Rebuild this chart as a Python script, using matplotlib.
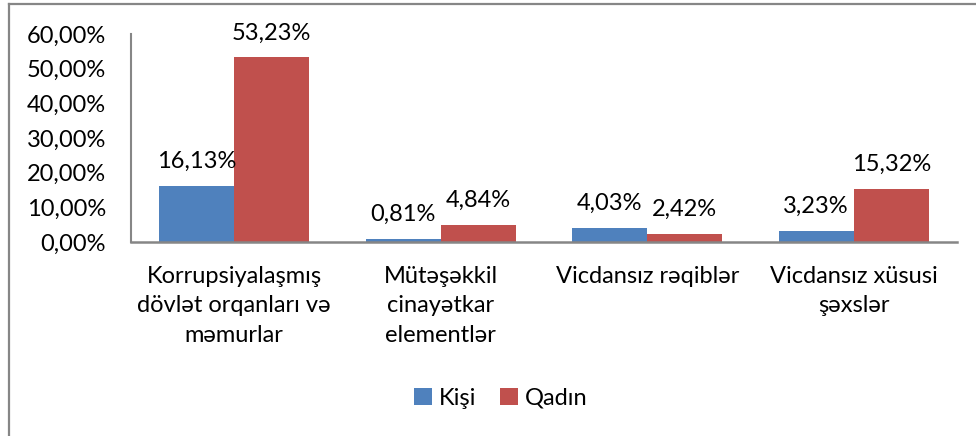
import matplotlib
matplotlib.use("Agg")
import matplotlib.pyplot as plt
from matplotlib.lines import Line2D
import numpy as np

plt.rcParams['font.family'] = ['Lato', 'DejaVu Sans']

categories = [
    "Korrupsiyalaşmış\ndövlət orqanları və\nməmurlar",
    "Mütəşəkkil\ncinayətkar\nelementlər",
    "Vicdansız rəqiblər",
    "Vicdansız xüsusi\nşəxslər",
]
kisi = [16.13, 0.81, 4.03, 3.23]
qadin = [53.23, 4.84, 2.42, 15.32]
series_names = ["Kişi", "Qadın"]
y_ticks = [0, 10, 20, 30, 40, 50, 60]

BLUE = '#4F81BD'
RED = '#C0504D'
GRAY = '#868686'
FS = 17


def pct(v, decimals=2):
    return (f"{v:.{decimals}f}%").replace('.', ',')


fig = plt.figure(figsize=(9.76, 4.36), dpi=100)
ax = fig.add_axes([131 / 976, 1 - 242 / 436, (957 - 131) / 976, (242 - 34) / 436])

x = np.arange(len(categories))
w = 0.364
b1 = ax.bar(x - w / 2, kisi, w, color=BLUE, label=series_names[0])
b2 = ax.bar(x + w / 2, qadin, w, color=RED, label=series_names[1])

for bars, vals in ((b1, kisi), (b2, qadin)):
    for rect, v in zip(bars, vals):
        ax.annotate(pct(v), (rect.get_x() + rect.get_width() / 2, v),
                    xytext=(0, 13), textcoords='offset points',
                    ha='center', va='baseline', fontsize=FS)

ax.set_xlim(-0.5, len(categories) - 0.5)
ax.set_ylim(0, 60)
ax.set_yticks(y_ticks)
ax.set_yticklabels([pct(t) for t in y_ticks], fontsize=FS)
ax.set_xticks(x)
ax.set_xticklabels(categories, fontsize=FS, linespacing=1.5, va='top')
ax.tick_params(axis='y', length=0, pad=18)
ax.tick_params(axis='x', length=0, pad=17)

for s in ('top', 'right'):
    ax.spines[s].set_visible(False)
ax.spines['left'].set_color(GRAY)
ax.spines['bottom'].set_color(GRAY)
ax.spines['left'].set_linewidth(1.5)
ax.spines['bottom'].set_linewidth(1.8)

fig.legend(loc='center', bbox_to_anchor=(501 / 976, 1 - 398 / 436), ncol=2,
           frameon=False, fontsize=FS, handlelength=0.75, handleheight=0.75,
           handletextpad=0.3, columnspacing=1.0)

# outer chart frame (left and top edges visible)
fig.add_artist(Line2D([8.5 / 976, 8.5 / 976], [0, 1 - 4.5 / 436], transform=fig.transFigure,
                      color=GRAY, lw=1.6))
fig.add_artist(Line2D([8.5 / 976, 1], [1 - 4.5 / 436, 1 - 4.5 / 436], transform=fig.transFigure,
                      color=GRAY, lw=1.6))

fig.savefig("out.png", dpi=100)
